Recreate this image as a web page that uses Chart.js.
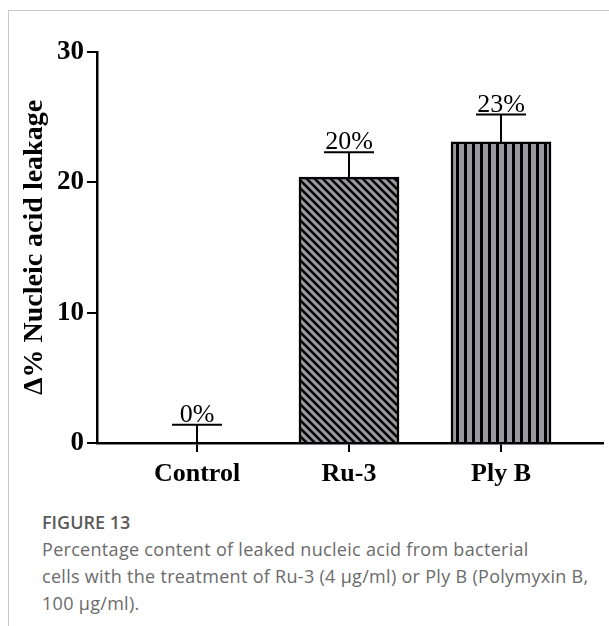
<!DOCTYPE html>
<html>
<head>
<meta charset="utf-8">
<script src="https://cdn.jsdelivr.net/npm/chart.js@4.4.1/dist/chart.umd.min.js"></script>
<style>
	html, body { margin: 0; padding: 0; background: #fff; }
	body { width: 609px; height: 626px; position: relative; overflow: hidden; }
	#frame { position: absolute; left: 8px; top: 10px; right: 0; bottom: 0; border-top: 1.5px solid #c9c9c9; border-left: 1.5px solid #c9c9c9; }
	#box { position: absolute; left: 0; top: 0; width: 609px; height: 500px; }
	#caption { position: absolute; left: 42px; top: 509px; font-family: "Open Sans", sans-serif; color: #6b6b6b; font-size: 18px; letter-spacing: 0.3px; line-height: 27px; }
	#caption b { color: #5a5a5a; font-weight: 600; font-size: 18px; letter-spacing: 0; }
</style>
</head>
<body>
<div id="frame"></div>
<div id="box"><canvas id="chart"></canvas></div>
<div id="caption">
	<b>FIGURE 13</b><br>
	Percentage content of leaked nucleic acid from bacterial<br>
	cells with the treatment of Ru-3 (4 µg/ml) or Ply B (Polymyxin B,<br>
	100 µg/ml).
</div>
<script>

const categories = ['Control', 'Ru-3', 'Ply B'];
const values = [0, 20.4, 23.1];
const errors = [1.4, 1.9, 2.1];
const yTicks = [0, 10, 20, 30];

const serif = '"Liberation Serif", "Times New Roman", serif';

function makePattern(kind) {
	let tile = document.createElement('canvas');
	tile.width = 8;
	tile.height = 8;
	let c = tile.getContext('2d');
	c.fillStyle = '#9a99a0';
	c.fillRect(0, 0, 8, 8);
	c.fillStyle = '#000';
	c.strokeStyle = '#000';
	if(kind === 'vertical') {
		c.fillRect(0, 0, 3, 8);
	} else {
		c.lineWidth = 2.6;
		c.beginPath();
		c.moveTo(-2, -2); c.lineTo(10, 10);
		c.moveTo(-2, 6); c.lineTo(2, 10);
		c.moveTo(6, -2); c.lineTo(10, 2);
		c.stroke();
	}
	return c.createPattern(tile, 'repeat');
}

const fills = ['#9a99a0', makePattern('diagonal'), makePattern('vertical')];

const errorBars = {
	id: 'errorBars',
	afterDatasetsDraw(chart) {
		let ctx = chart.ctx;
		let x = chart.scales.x;
		let y = chart.scales.y;
		ctx.save();
		ctx.strokeStyle = '#000';
		ctx.fillStyle = '#000';
		ctx.lineWidth = 2;
		ctx.font = '26px ' + serif;
		ctx.textAlign = 'center';
		ctx.textBaseline = 'alphabetic';
		values.forEach((v, i) => {
			let px = x.getPixelForValue(i);
			let top = y.getPixelForValue(v);
			let end = y.getPixelForValue(v + errors[i]);
			ctx.beginPath();
			ctx.moveTo(px, top);
			ctx.lineTo(px, end);
			ctx.moveTo(px - 25, end);
			ctx.lineTo(px + 25, end);
			ctx.stroke();
			ctx.fillText(Math.round(v) + '%', px, end - 3);
		});
		ctx.restore();
	}
};

new Chart(document.getElementById('chart'), {
	type: 'bar',
	data: {
		datasets: [
			{
				data: values.map((v, i) => ({x: i, y: v})),
				backgroundColor: fills,
				borderColor: '#000',
				borderWidth: 2.5,
				barThickness: 100
			}
		]
	},
	options: {
		responsive: true,
		maintainAspectRatio: false,
		animation: {
			duration: 0
		},
		layout: {
			padding: {left: 16, right: 6, top: 52, bottom: 0}
		},
		scales: {
			x: {
				type: 'linear',
				offset: false,
				min: -0.658,
				max: 2.671,
				afterBuildTicks: function(scale) {
					scale.ticks = categories.map((c, i) => ({value: i}));
				},
				afterFit: function(scale) {
					scale.height = 57;
				},
				grid: {
					display: true,
					offset: false,
					drawOnChartArea: false,
					drawTicks: true,
					tickLength: 9,
					color: '#000',
					lineWidth: 2
				},
				border: {
					display: true,
					color: '#000',
					width: 2.5
				},
				ticks: {
					color: '#000',
					padding: 7,
					font: {family: serif, size: 26, weight: 'bold'},
					callback: function(value) {
						return categories[value];
					}
				}
			},
			y: {
				min: 0,
				max: 30,
				afterBuildTicks: function(scale) {
					scale.ticks = yTicks.map(v => ({value: v}));
				},
				afterFit: function(scale) {
					scale.width = 81;
				},
				grid: {
					display: true,
					drawOnChartArea: false,
					drawTicks: true,
					tickLength: 10,
					color: '#000',
					lineWidth: 2
				},
				border: {
					display: true,
					color: '#000',
					width: 2.5
				},
				ticks: {
					color: '#000',
					padding: 3,
					font: {family: serif, size: 27, weight: 'bold'}
				},
				title: {
					display: true,
					text: 'Δ% Nucleic acid leakage',
					color: '#000',
					padding: {top: 2, bottom: 4},
					font: {family: serif, size: 28, weight: 'bold'}
				}
			}
		},
		plugins: {
			legend: {
				display: false
			},
			tooltip: {
				enabled: false
			}
		}
	},
	plugins: [errorBars]
});

</script>
</body>
</html>
